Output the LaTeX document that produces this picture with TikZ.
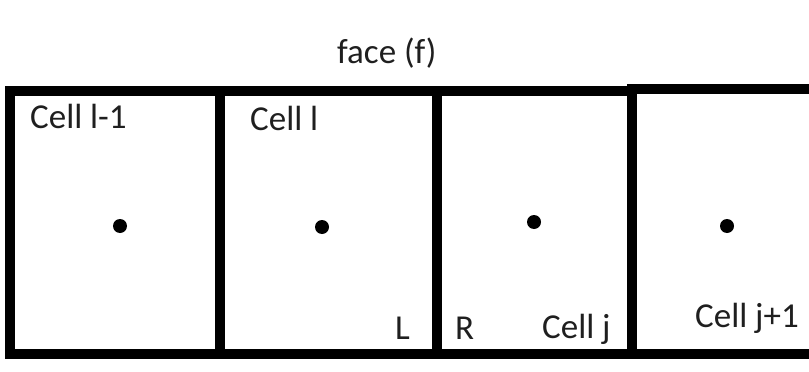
\documentclass[tikz,border=0pt]{standalone}
\usepackage{fontspec}
\setmainfont{Carlito}
\begin{document}
\begin{tikzpicture}[x=1pt,y=-1pt,
  wall/.style={line width=10pt,line join=miter,line cap=rect},
  lbl/.style={inner sep=0pt,anchor=base west,font=\fontsize{35}{40}\selectfont,text=black!88},
  ctr/.style={fill=black}]
\useasboundingbox[fill=white] (0,0) rectangle (809,372);
% outer walls
\draw[wall] (815,354) -- (10,354) -- (10,91) -- (632,91);
\draw[wall] (632,89) -- (815,89);
% dividers
\draw[wall] (220,91) -- (220,354);
\draw[wall] (437,91) -- (437,354);
\draw[wall] (632,91) -- (632,354);
% cell centres
\fill[ctr] (120,226) circle (7);
\fill[ctr] (322,227) circle (7);
\fill[ctr] (534,222) circle (7);
\fill[ctr] (727,226) circle (7);
% labels
\node[lbl] (face) at (337,63) {face (f)};
\node[lbl] (c1) at (30,128) {Cell l-1};
\node[lbl] (c2) at (250,130) {Cell l};
\node[lbl] (L) at (395,339) {L};
\node[lbl] (R) at (455,339) {R};
\node[lbl] (c3) at (542,338) {Cell j};
\node[lbl] (c4) at (695,327) {Cell j+1};
\end{tikzpicture}
\end{document}
